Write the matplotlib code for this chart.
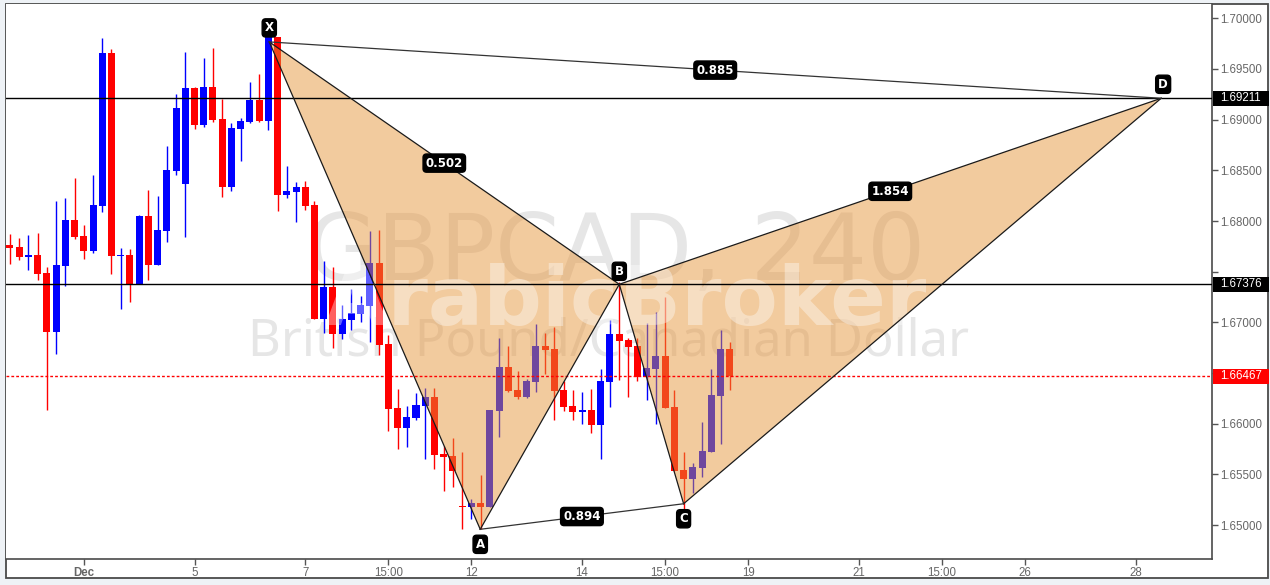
import matplotlib
matplotlib.use('Agg')
import matplotlib.pyplot as plt
from matplotlib.patches import Rectangle, Polygon
import matplotlib.transforms as mtrans
import numpy as np

# ---------------- data ----------------
opens = [1.67764, 1.67744, 1.67648, 1.67665, 1.67487, 1.66908, 1.67559, 1.68010, 1.67852, 1.67704,
         1.68148, 1.69658, 1.67655, 1.67665, 1.67376, 1.68050, 1.67566, 1.67902, 1.68494, 1.68365,
         1.69316, 1.68950, 1.69322, 1.69007, 1.68339, 1.68911, 1.68980, 1.69194, 1.68987, 1.69816,
         1.68257, 1.68289, 1.68336, 1.68158, 1.67033, 1.67349, 1.66889, 1.67027, 1.67086, 1.67165,
         1.67586, 1.66787, 1.66156, 1.65961, 1.66057, 1.66175, 1.66264, 1.65702, 1.65682, 1.65189,
         1.65179, 1.65218, 1.65179, 1.66126, 1.66560, 1.66333, 1.66264, 1.66412, 1.66767, 1.66738,
         1.66333, 1.66175, 1.66116, 1.66136, 1.65988, 1.66412, 1.66886, 1.66826, 1.66767, 1.66461,
         1.66540, 1.66668, 1.66165, 1.65544, 1.65455, 1.65563, 1.65721, 1.66274, 1.66738]
highs = [1.67872, 1.67833, 1.67862, 1.67882, 1.67547, 1.68198, 1.68227, 1.68425, 1.67961, 1.68454,
         1.69806, 1.69697, 1.67734, 1.67724, 1.68060, 1.68306, 1.68247, 1.68740, 1.69253, 1.69668,
         1.69322, 1.69609, 1.69707, 1.69207, 1.68967, 1.69017, 1.69372, 1.69451, 1.69835, 1.69816,
         1.68543, 1.68385, 1.68395, 1.68198, 1.67606, 1.67547, 1.67172, 1.67329, 1.67260, 1.67902,
         1.67912, 1.66876, 1.66343, 1.66175, 1.66303, 1.66353, 1.66353, 1.65778, 1.65859, 1.65721,
         1.65258, 1.65495, 1.66136, 1.66846, 1.66767, 1.66520, 1.66442, 1.66984, 1.66895, 1.66955,
         1.66422, 1.66333, 1.66313, 1.66343, 1.66540, 1.67024, 1.67399, 1.66846, 1.66846, 1.66994,
         1.67103, 1.67251, 1.66333, 1.65721, 1.65613, 1.66018, 1.66540, 1.66925, 1.66807]
lows = [1.67576, 1.67619, 1.67517, 1.67418, 1.66136, 1.66688, 1.67362, 1.67823, 1.67626, 1.67684,
        1.68089, 1.67478, 1.67132, 1.67201, 1.67376, 1.67418, 1.67566, 1.67793, 1.68454, 1.67843,
        1.68911, 1.68931, 1.68980, 1.68240, 1.68299, 1.68595, 1.68970, 1.68980, 1.68898, 1.68102,
        1.68230, 1.67993, 1.68112, 1.67033, 1.66898, 1.66750, 1.66839, 1.66928, 1.67007, 1.66810,
        1.66678, 1.65931, 1.65754, 1.65774, 1.66037, 1.65655, 1.65557, 1.65340, 1.65379, 1.64965,
        1.65063, 1.64965, 1.65179, 1.65869, 1.66313, 1.66244, 1.66254, 1.66313, 1.66491, 1.66037,
        1.66126, 1.66037, 1.65998, 1.65909, 1.65652, 1.66165, 1.66432, 1.66264, 1.66422, 1.66234,
        1.65998, 1.66156, 1.65534, 1.65159, 1.65317, 1.65475, 1.65721, 1.65800, 1.66333]
closes = [1.67737, 1.67648, 1.67665, 1.67481, 1.66908, 1.67566, 1.68010, 1.67843, 1.67704, 1.68158,
          1.69658, 1.67658, 1.67665, 1.67376, 1.68050, 1.67566, 1.67912, 1.68504, 1.69115, 1.69313,
          1.68950, 1.69322, 1.68999, 1.68339, 1.68918, 1.68987, 1.69194, 1.68987, 1.69819, 1.68257,
          1.68296, 1.68336, 1.68151, 1.67033, 1.67349, 1.66889, 1.67033, 1.67093, 1.67172, 1.67586,
          1.66777, 1.66149, 1.65961, 1.66067, 1.66185, 1.66264, 1.65692, 1.65675, 1.65537, 1.65179,
          1.65218, 1.65179, 1.66136, 1.66560, 1.66323, 1.66264, 1.66422, 1.66767, 1.66728, 1.66323,
          1.66165, 1.66116, 1.66136, 1.65988, 1.66422, 1.66886, 1.66816, 1.66757, 1.66461, 1.66550,
          1.66668, 1.66156, 1.65534, 1.65455, 1.65573, 1.65731, 1.66284, 1.66738, 1.66467]

tick_pos = [8, 20, 32, 41, 50, 62, 71, 80, 92, 101, 110, 122]
tick_labels = ['Dec', '5', '7', '15:00', '12', '14', '15:00', '19', '21', '15:00', '26', '28']
y_ticks = [1.650, 1.655, 1.660, 1.665, 1.670, 1.675, 1.680, 1.685, 1.690, 1.695, 1.700]
y_tick_labels = ['1.65000', '1.65500', '1.66000', '', '1.67000', '', '1.68000', '1.68500',
                 '1.69000', '1.69500', '1.70000']

pattern_names = ['X', 'A', 'B', 'C', 'D']
pattern_x = [28.1, 50.96, 66.03, 73.0, 124.75]
pattern_y = [1.69767, 1.64959, 1.67376, 1.65211, 1.69211]
ratio_pairs = [('X', 'D'), ('X', 'B'), ('B', 'D'), ('A', 'C')]
ratio_values = ['0.885', '0.502', '1.854', '0.894']

level_lines = [1.69211, 1.67376]
last_price = 1.66467

# ---------------- figure ----------------
W, H = 1270, 585
fig = plt.figure(figsize=(W / 100, H / 100), dpi=100, facecolor='#eef2f6')
fig.patches.append(Rectangle((6 / W, 1 - 578 / H), 1262 / W, 574 / H, transform=fig.transFigure,
                             facecolor='white', edgecolor='#4a4a4a', lw=1.3, zorder=-5))
ax = fig.add_axes([6 / W, 1 - 559 / H, 1206 / W, 555 / H])
ax.set_facecolor('white')
ax.set_xlim(-0.43, 130.26)
ax.set_ylim(1.64666, 1.70141)
for s in ['top', 'left']:
    ax.spines[s].set_visible(False)
for s in ['right', 'bottom']:
    ax.spines[s].set_color('#4a4a4a')
    ax.spines[s].set_linewidth(1.2)

ax.yaxis.tick_right()
ax.set_yticks(y_ticks)
ax.set_yticklabels(y_tick_labels)
ax.tick_params(axis='y', direction='out', length=4, width=1, color='#555555', pad=2,
               labelsize=8.3, labelcolor='#666666')
ax.set_xticks(tick_pos)
ax.set_xticklabels(tick_labels)
ax.tick_params(axis='x', direction='out', length=4, width=1, color='#555555', pad=2,
               labelsize=8.3, labelcolor='#666666')
for lab in ax.get_xticklabels() + ax.get_yticklabels():
    lab.set_fontfamily('Liberation Sans')
ax.get_xticklabels()[0].set_fontweight('bold')

# ---------------- watermarks ----------------
ax.text(610 / 1206, 1 - (280 - 4) / 555, 'GBPCAD, 240', transform=ax.transAxes, ha='center',
        va='baseline', fontsize=66, color='#e6e6e6', family='DejaVu Sans', zorder=0.5)
ax.text(603 / 1206, 1 - (355 - 4) / 555, 'British Pound/Canadian Dollar', transform=ax.transAxes,
        ha='center', va='baseline', fontsize=36.5, color='#e6e6e6', family='Noto Sans', zorder=0.5)

# ---------------- candles ----------------
o = np.array(opens); h = np.array(highs); l = np.array(lows); c = np.array(closes)
idx = np.arange(len(o))
cols = np.where(c >= o, '#0000ff', '#ff0000')
ax.vlines(idx, l, h, colors=cols, lw=1.0, zorder=2)
bot = np.minimum(o, c)
hgt = np.maximum(np.abs(c - o), 0.00009)
ax.bar(idx, hgt, bottom=bot, width=0.76, color=cols, linewidth=0, zorder=2.1)

# ---------------- levels ----------------
for lv in level_lines:
    ax.axhline(lv, color='black', lw=1.0, zorder=4)
ax.axhline(last_price, color='#ff0000', lw=1.0, ls=(0, (2, 1.5)), zorder=4)

# ---------------- pattern ----------------
pts = {n: (x, y) for n, x, y in zip(pattern_names, pattern_x, pattern_y)}
fill_kw = dict(closed=True, facecolor='#e69438', alpha=0.486, edgecolor='none', zorder=3)
ax.add_patch(Polygon([pts['X'], pts['A'], pts['B']], **fill_kw))
ax.add_patch(Polygon([pts['B'], pts['C'], pts['D']], **fill_kw))

ax.text(620 / 1206, 1 - (325 - 4) / 555, 'ArabicBroker', transform=ax.transAxes, ha='center',
        va='baseline', fontsize=59, fontweight='bold', color='white', alpha=0.38,
        family='DejaVu Sans', zorder=3.5)

for a, b in [('X', 'A'), ('A', 'B'), ('B', 'X'), ('B', 'C'), ('C', 'D'), ('D', 'B')]:
    ax.plot([pts[a][0], pts[b][0]], [pts[a][1], pts[b][1]], color='#1a1a1a', lw=0.9, zorder=5)
for a, b in [('X', 'D'), ('A', 'C')]:
    ax.plot([pts[a][0], pts[b][0]], [pts[a][1], pts[b][1]], color='#333333', lw=0.9, zorder=5)

box = dict(boxstyle='round,pad=0.22,rounding_size=0.3', facecolor='black', edgecolor='black')
offsets = {'X': (0, 14), 'A': (0, -15), 'B': (0, 13), 'C': (0, -15), 'D': (2, 14)}
for n in pattern_names:
    ax.annotate(n, pts[n], xytext=offsets[n], textcoords='offset pixels', ha='center', va='center',
                color='white', fontsize=8.5, fontweight='bold', family='DejaVu Sans', bbox=box, zorder=7)
for (a, b), txt in zip(ratio_pairs, ratio_values):
    mx = (pts[a][0] + pts[b][0]) / 2
    my = (pts[a][1] + pts[b][1]) / 2
    ax.text(mx, my, txt, ha='center', va='center', color='white', fontsize=8.5, fontweight='bold',
            family='DejaVu Sans', bbox=box, zorder=7)

# ---------------- right axis price boxes ----------------
trans = mtrans.blended_transform_factory(ax.transAxes, ax.transData)
for lv, fc in [(level_lines[0], 'black'), (level_lines[1], 'black'), (last_price, '#ff0000')]:
    ax.add_patch(Rectangle((1.0008, lv - 7.5 / 10136), 56 / 1206, 15 / 10136, transform=trans,
                           facecolor=fc, edgecolor='none', clip_on=False, zorder=8))
    ax.text(1.0008 + 28 / 1206, lv, '%.5f' % lv, transform=trans, ha='center', va='center',
            color='white', fontsize=8.3, family='Liberation Sans', clip_on=False, zorder=9)

fig.savefig('out.png', dpi=100, facecolor=fig.get_facecolor())
